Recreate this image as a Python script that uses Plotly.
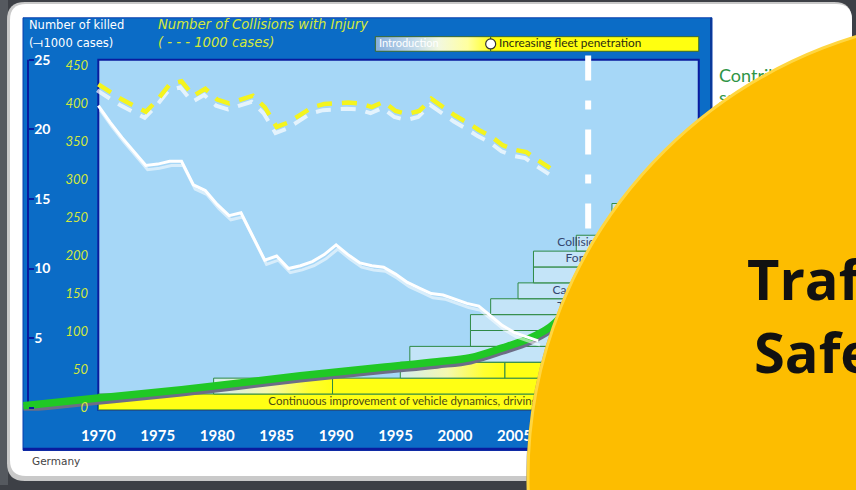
import plotly.graph_objects as go

# ---------------- data ----------------
killed_years = list(range(1970, 2008))
killed = [21.7, 20.5, 19.4, 18.4, 17.4, 17.5, 17.7, 17.7, 16.0, 15.6,
          14.6, 13.8, 14.0, 12.3, 10.6, 10.9, 10.0, 10.2, 10.5, 11.0,
          11.7, 11.0, 10.4, 10.2, 10.1, 9.6, 9.0, 8.6, 8.2, 8.1,
          7.8, 7.5, 7.3, 6.6, 5.9, 5.4, 5.1, 4.8]

coll_years = list(range(1970, 2009))
collisions = [425, 415, 405, 397, 389, 405, 425, 429, 410, 419,
              405, 400, 405, 410, 395, 369, 375, 385, 395, 399,
              400, 401, 400, 395, 402, 390, 386, 390, 406, 395,
              384, 375, 365, 357, 345, 339, 336, 325, 315]

contrib_years = [1963.7, 1970, 1977, 1987, 1993.7, 1998.5, 2001.3, 2004, 2006.3, 2008, 2009]
contrib_values = [0.15, 0.7, 1.3, 2.3, 2.9, 3.3, 3.6, 4.3, 5.0, 5.8, 6.6]

measure_labels = ["Continuous improvement of vehicle dynamics, driving behaviour and passive safety",
                  "", "", "", "", "", "", "",
                  "Tire pressure monitoring", "Car-to-car communication", "",
                  "Forward collision warning", "Collision mitigation", "", ""]
measure_rows = [0, 1, 1, 2, 2, 3, 4, 5, 6, 7, 8, 9, 10, 11, 12]
measure_start = [1970, 1979.7, 1989.7, 1995.4, 2004.2, 1996.2, 2001.3, 2001.3,
                 2003.0, 2005.3, 2006.6, 2006.6, 2010.2, 2013.2, 2013.2]
measure_end = [2020.5, 1989.7, 2020.5, 2004.2, 2020.5, 2020.5, 2020.5, 2020.5,
               2020.5, 2020.5, 2020.5, 2020.5, 2020.5, 2020.5, 2020.5]

phase_labels = ["Introduction", "Increasing fleet penetration"]
phase_start = [1993.3, 2003.0]
phase_end = [2003.0, 2020.5]
today_year = 2011.2

year_ticks = [1970, 1975, 1980, 1985, 1990, 1995, 2000, 2005, 2010, 2015, 2020]
killed_ticks = [0, 5, 10, 15, 20, 25]
coll_ticks = [0, 50, 100, 150, 200, 250, 300, 350, 400, 450]

# ---------------- styling helpers ----------------
W, H = 856, 490
def px(x):
    return x / W
def py(y):
    return 1 - y / H

NAVY = "#0a1c9e"
BLUE = "#0b6cc6"
PLOT_BG = "#a6d7f7"
YEL_TXT = "#d4e83c"
FONT = "Lato"
TFONT = "DejaVu Sans"
ROW_H = 1.14
ROW_BASE = -0.15

fig = go.Figure()

# stair of measures
for lab, r, s, e in zip(measure_labels, measure_rows, measure_start, measure_end):
    y0 = ROW_BASE + r * ROW_H
    y1 = y0 + ROW_H
    kw = dict(fill="toself", mode="lines", line=dict(color="#2f8a45", width=1),
              hoverinfo="skip", showlegend=False)
    if r == 0 or (r in (1, 2) and s in (1989.7, 2004.2)):
        kw["fillcolor"] = "#ffff14"
    elif r in (1, 2):
        kw["fillgradient"] = dict(type="horizontal",
                                  colorscale=[[0, "#d2ecef"], [0.45, "#f4f8b0"], [0.8, "#ffff30"], [1, "#ffff14"]])
    else:
        kw["fillcolor"] = "rgba(232,244,248,0.45)"
    fig.add_trace(go.Scatter(x=[s, e, e, s, s], y=[y0, y0, y1, y1, y0], **kw))

# labels of measures
for lab, r, s in zip(measure_labels, measure_rows, measure_start):
    if not lab:
        continue
    yc = ROW_BASE + (r + 0.5) * ROW_H
    if r == 0:
        xl, col, sz = 1984.3, "#4a4a14", 11.5
    else:
        xl = {6: 2008.6, 7: 2008.2, 9: 2009.3, 10: 2008.6}[r]
        col, sz = "#34466e", 12
    fig.add_trace(go.Scatter(x=[xl], y=[yc], mode="text", text=[lab], textposition="middle right",
                             textfont=dict(family=FONT, size=sz, color=col),
                             hoverinfo="skip", showlegend=False, cliponaxis=False))

# contribution curve (green) with shadow
fig.add_trace(go.Scatter(x=contrib_years, y=[v - 0.22 for v in contrib_values], mode="lines",
                         line=dict(color="#6d6d86", width=7.5, shape="spline", smoothing=1),
                         hoverinfo="skip", showlegend=False))
fig.add_trace(go.Scatter(x=contrib_years, y=contrib_values, mode="lines",
                         line=dict(color="#20c825", width=7.5, shape="spline", smoothing=1),
                         hoverinfo="skip", showlegend=False))

# killed line (white, doubled)
fig.add_trace(go.Scatter(x=[y + 0.15 for y in killed_years], y=[k - 0.3 for k in killed], mode="lines",
                         line=dict(color="rgba(255,255,255,0.55)", width=3),
                         hoverinfo="skip", showlegend=False))
fig.add_trace(go.Scatter(x=killed_years, y=killed, mode="lines",
                         line=dict(color="white", width=3), name="Number of killed",
                         showlegend=False))

# collisions (yellow dashed, with white shadow)
fig.add_trace(go.Scatter(x=[y - 0.1 for y in coll_years], y=[c - 8 for c in collisions], yaxis="y2",
                         mode="lines", line=dict(color="rgba(255,255,255,0.7)", width=4, dash="15px,10px"),
                         hoverinfo="skip", showlegend=False))
fig.add_trace(go.Scatter(x=coll_years, y=collisions, yaxis="y2", mode="lines",
                         line=dict(color="#f4f41e", width=4.5, dash="15px,10px"),
                         name="Number of Collisions with Injury", showlegend=False))

# today marker (white dash-dot vertical line)
fig.add_trace(go.Scatter(x=[today_year, today_year], y=[25.3, 12.6], mode="lines",
                         line=dict(color="white", width=6, dash="25px,20px,9px,20px"),
                         hoverinfo="skip", showlegend=False, cliponaxis=False))

# phase banner
BY0, BY1 = 25.6, 26.65
fig.add_trace(go.Scatter(x=[phase_start[0], phase_end[0], phase_end[0], phase_start[0], phase_start[0]],
                         y=[BY0, BY0, BY1, BY1, BY0], fill="toself", mode="lines",
                         line=dict(color="#3c6a2c", width=1),
                         fillgradient=dict(type="horizontal",
                                           colorscale=[[0, "#86aedc"], [0.35, "#c4dbea"], [0.55, "#f2f8e0"],
                                                       [0.8, "#ffffa0"], [1, "#ffff20"]]),
                         hoverinfo="skip", showlegend=False, cliponaxis=False))
fig.add_trace(go.Scatter(x=[phase_start[1], phase_end[1], phase_end[1], phase_start[1], phase_start[1]],
                         y=[BY0, BY0, BY1, BY1, BY0], fill="toself", mode="lines",
                         line=dict(color="#3c6a2c", width=1), fillcolor="#ffff10",
                         hoverinfo="skip", showlegend=False, cliponaxis=False))
fig.add_trace(go.Scatter(x=[phase_start[0] + 0.3], y=[(BY0 + BY1) / 2], mode="text", text=[phase_labels[0]],
                         textposition="middle right", textfont=dict(family=FONT, size=11, color="white"),
                         hoverinfo="skip", showlegend=False, cliponaxis=False))
fig.add_trace(go.Scatter(x=[phase_start[1] + 0.7], y=[(BY0 + BY1) / 2], mode="text", text=[phase_labels[1]],
                         textposition="middle right", textfont=dict(family=FONT, size=11.8, color="#2a2a10"),
                         hoverinfo="skip", showlegend=False, cliponaxis=False))
fig.add_trace(go.Scatter(x=[phase_start[1]], y=[(BY0 + BY1) / 2], mode="markers",
                         marker=dict(size=10, color="white", line=dict(color="#333", width=1.2)),
                         hoverinfo="skip", showlegend=False, cliponaxis=False))

# side text (on a full-page overlay axis so the disc can cover it)
fig.add_trace(go.Scatter(x=[719, 719], y=[78, 101], xaxis="x3", yaxis="y3", mode="text",
                         text=["Contribution of", "safety systems"], textposition="middle right",
                         textfont=dict(family=FONT, size=18, color="#2e9446"),
                         hoverinfo="skip", showlegend=False))

# ---------------- layout ----------------
x_lo = 1970 - (98.3 - 23) / 11.89
x_hi = 1970 + (712 - 98.3) / 11.89
ydom = [py(415), py(18)]
k_lo = -3 / 14.07
k_hi = (412 - 18) / 14.07
c_lo = -3 / 0.769
c_hi = (412 - 18) / 0.769

def card_path(x0, y0, x1, y1, r):
    X0, X1 = px(x0), px(x1)
    Y0, Y1 = py(y0), py(y1)
    rx, ry = r / W, r / H
    return (f"M {X0+rx},{Y0} L {X1-rx},{Y0} Q {X1},{Y0} {X1},{Y0-ry} "
            f"L {X1},{Y1+ry} Q {X1},{Y1} {X1-rx},{Y1} L {X0+rx},{Y1} "
            f"Q {X0},{Y1} {X0},{Y1+ry} L {X0},{Y0-ry} Q {X0},{Y0} {X0+rx},{Y0} Z")

shapes = [
    dict(type="rect", xref="paper", yref="paper", x0=0, x1=px(8), y0=0, y1=1,
         fillcolor="#55595f", line_width=0, layer="below"),
    dict(type="path", xref="paper", yref="paper", path=card_path(7, 2, 852, 486, 18),
         fillcolor="#c9c9c9", line_width=0, layer="below"),
    dict(type="path", xref="paper", yref="paper", path=card_path(10, 4, 852, 481, 16),
         fillcolor="white", line_width=0, layer="below"),
    dict(type="rect", xref="paper", yref="paper", x0=px(23), x1=px(712), y0=py(455), y1=py(18),
         fillcolor=BLUE, line=dict(color="#0a3fae", width=1), layer="below"),
    dict(type="line", xref="paper", yref="paper", x0=px(23), x1=px(712), y0=py(454), y1=py(454),
         line=dict(color=NAVY, width=3), layer="below"),
    dict(type="line", xref="paper", yref="paper", x0=px(711), x1=px(711), y0=py(455), y1=py(18),
         line=dict(color="#0a3a9a", width=2), layer="below"),
    dict(type="line", xref="paper", yref="y", x0=px(28), x1=px(28), y0=-0.15, y1=25,
         line=dict(color=NAVY, width=2), layer="below"),
    dict(type="rect", xref="x", yref="y", x0=1970, x1=2020.5, y0=-0.2, y1=25.0,
         fillcolor=PLOT_BG, line=dict(color=NAVY, width=2), layer="below"),
    # orange disc
    dict(type="circle", xref="paper", yref="paper",
         x0=px(994 - 468), x1=px(994 + 468), y0=py(484 + 468), y1=py(484 - 468),
         fillcolor="#5a5a5a", line_width=0, layer="above", opacity=0.5),
    dict(type="circle", xref="paper", yref="paper",
         x0=px(994 - 466), x1=px(994 + 466), y0=py(482 + 466), y1=py(482 - 466),
         fillcolor="#fdbd00", line=dict(color="#ffd640", width=3), layer="above"),
]

annotations = [
    dict(x=px(27), y=py(25), xref="paper", yref="paper", xanchor="left", yanchor="middle",
         text="Number of killed", showarrow=False, font=dict(family=TFONT, size=11.5, color="white")),
    dict(x=px(27), y=py(43), xref="paper", yref="paper", xanchor="left", yanchor="middle",
         text="(\u27de1000 cases)", showarrow=False, font=dict(family=TFONT, size=11.5, color="white")),
    dict(x=px(156), y=py(25), xref="paper", yref="paper", xanchor="left", yanchor="middle",
         text="Number of Collisions with Injury", showarrow=False,
         font=dict(family=TFONT, size=13.2, color=YEL_TXT, style="italic")),
    dict(x=px(156), y=py(43), xref="paper", yref="paper", xanchor="left", yanchor="middle",
         text="( - - - 1000 cases)", showarrow=False,
         font=dict(family=TFONT, size=13.2, color=YEL_TXT, style="italic")),
    dict(x=px(30), y=py(466), xref="paper", yref="paper", xanchor="left", yanchor="middle",
         text="Germany", showarrow=False, font=dict(family=TFONT, size=10.5, color="#444")),
    dict(x=px(745), y=py(281), xref="paper", yref="paper", xanchor="left", yanchor="middle",
         text="Traffic", showarrow=False, font=dict(family="Open Sans", size=56, color="#111", weight="bold")),
    dict(x=px(752), y=py(355), xref="paper", yref="paper", xanchor="left", yanchor="middle",
         text="Safety", showarrow=False, font=dict(family="Open Sans", size=56, color="#111", weight="bold")),
]

fig.update_layout(
    width=W, height=H, margin=dict(l=0, r=0, t=0, b=0),
    paper_bgcolor="#3d4046", plot_bgcolor="rgba(0,0,0,0)",
    showlegend=False, hovermode=False,
    shapes=shapes, annotations=annotations,
    xaxis=dict(domain=[px(23), px(712)], range=[x_lo, x_hi], anchor="y",
               tickvals=year_ticks, ticktext=[str(t) for t in year_ticks],
               showgrid=False, zeroline=False, showline=False, ticks="",
               ticklabelstandoff=14,
               tickfont=dict(family=FONT, size=15, color="white", weight="bold")),
    yaxis=dict(domain=ydom, range=[k_lo, k_hi], anchor="free", position=px(28), side="left",
               tickvals=killed_ticks, ticks="inside", ticklen=5, tickwidth=2, tickcolor=NAVY,
               ticklabelposition="inside", showgrid=False, zeroline=False, showline=False,
               tickfont=dict(family=FONT, size=14, color="white", weight="bold")),
    yaxis2=dict(domain=ydom, range=[c_lo, c_hi], overlaying="y", anchor="free", position=px(88),
                side="left", tickvals=coll_ticks, ticks="", showgrid=False, zeroline=False,
                showline=False,
                tickfont=dict(family=FONT, size=13, color=YEL_TXT, style="italic")),
    xaxis3=dict(domain=[0, 1], range=[0, W], anchor="y3", visible=False),
    yaxis3=dict(domain=[0, 1], range=[H, 0], anchor="x3", visible=False),
)

fig.write_html("out.html")
